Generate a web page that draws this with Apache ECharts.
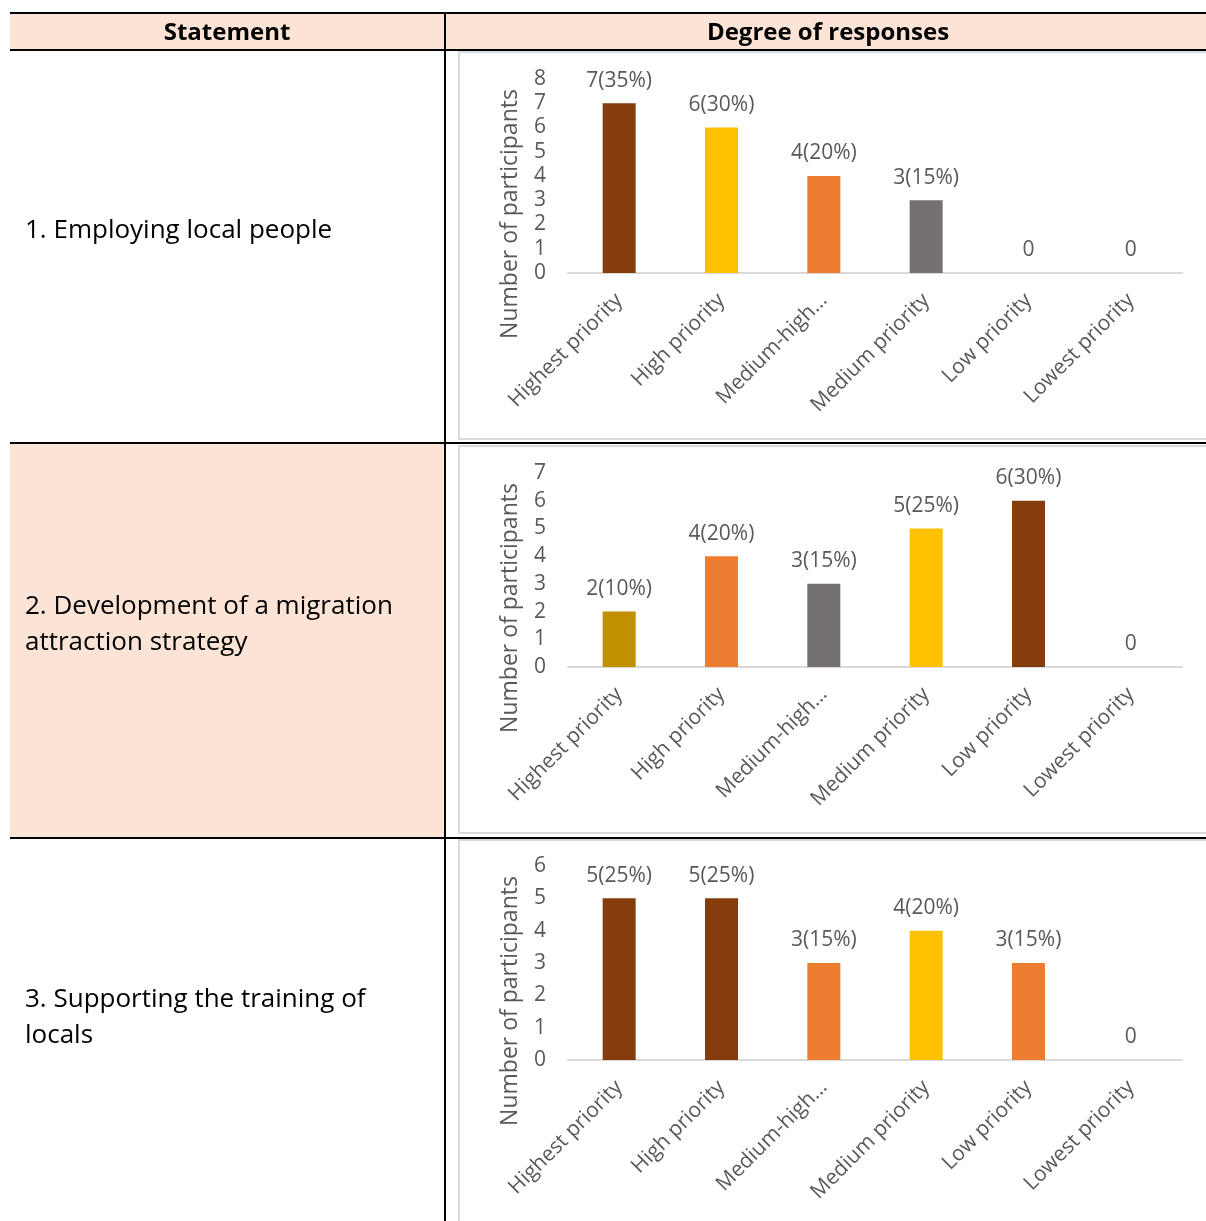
<!DOCTYPE html>
<html>
<head>
<meta charset="utf-8">
<style>
html,body{margin:0;padding:0;background:#fff;}
#c{width:1206px;height:1221px;}
</style>
<script src="https://cdn.jsdelivr.net/npm/echarts@6/dist/echarts.min.js"></script>
</head>
<body>
<div id="c"></div>
<script>
// ---- data ----
const categories = ['Highest priority', 'High priority', 'Medium-high…', 'Medium priority', 'Low priority', 'Lowest priority'];
const statements = ['1. Employing local people', '2. Development of a migration\nattraction strategy', '3. Supporting the training of\nlocals'];
const values1 = [7, 6, 4, 3, 0, 0];
const pcts1 = [35, 30, 20, 15, 0, 0];
const values2 = [2, 4, 3, 5, 6, 0];
const pcts2 = [10, 20, 15, 25, 30, 0];
const values3 = [5, 5, 3, 4, 3, 0];
const pcts3 = [25, 25, 15, 20, 15, 0];
const yMax = [8, 7, 6];

const BROWN = '#843C0C', GOLD = '#FFC000', ORANGE = '#ED7D31', GRAY = '#767171', DGOLD = '#BF9000';
const colors1 = [BROWN, GOLD, ORANGE, GRAY, GRAY, GRAY];
const colors2 = [DGOLD, ORANGE, GRAY, GOLD, BROWN, GRAY];
const colors3 = [BROWN, BROWN, ORANGE, GOLD, ORANGE, GRAY];

const FONT = 'Open Sans';
const TXT = '#595959';
const chart = echarts.init(document.getElementById('c'), null, {renderer: 'canvas'});

const gridTops = [79, 473, 866];
const plotH = 194;
const allValues = [values1, values2, values3];
const allPcts = [pcts1, pcts2, pcts3];
const allColors = [colors1, colors2, colors3];

const grids = [], xAxes = [], yAxes = [], series = [];
for (let i = 0; i < 3; i++) {
  grids.push({left: 568, right: 24, top: gridTops[i], height: plotH, containLabel: false});
  xAxes.push({
    type: 'category', gridIndex: i, data: categories,
    axisLine: {lineStyle: {color: '#D9D9D9', width: 2}},
    axisTick: {show: false},
    axisLabel: {rotate: 45, margin: 24, color: TXT, fontFamily: FONT, fontSize: 21, interval: 0}
  });
  yAxes.push({
    type: 'value', gridIndex: i, min: 0, max: yMax[i], interval: 1,
    axisLine: {show: false}, axisTick: {show: false}, splitLine: {show: false},
    axisLabel: {margin: 22, color: TXT, fontFamily: FONT, fontSize: 21}
  });
  const pc = allPcts[i];
  series.push({
    type: 'bar', xAxisIndex: i, yAxisIndex: i, barWidth: 33,
    data: allValues[i].map((v, j) => ({value: v, itemStyle: {color: allColors[i][j]}})),
    label: {
      show: true, position: 'top', distance: 12, color: TXT, fontFamily: FONT, fontSize: 21,
      formatter: p => p.value === 0 ? '0' : p.value + '(' + pc[p.dataIndex] + '%)'
    }
  });
}

const graphics = [];
// header fill
graphics.push({type: 'rect', shape: {x: 10, y: 13, width: 1196, height: 37}, style: {fill: '#FBE4D5'}, z: -10});
// row 2 left cell fill
graphics.push({type: 'rect', shape: {x: 10, y: 444, width: 434, height: 394}, style: {fill: '#FBE4D5'}, z: -10});
// chart frames
const frames = [[52, 439], [446, 833], [840, 1226]];
frames.forEach(f => graphics.push({type: 'rect', shape: {x: 459, y: f[0], width: 760, height: f[1] - f[0]}, style: {fill: 'none', stroke: '#D9D9D9', lineWidth: 2}, z: -5}));
// table lines
[13, 50, 443, 838].forEach(y => graphics.push({type: 'line', shape: {x1: 10, y1: y, x2: 1206, y2: y}, style: {stroke: '#000', lineWidth: 2}, z: 10}));
graphics.push({type: 'line', shape: {x1: 445, y1: 13, x2: 445, y2: 1221}, style: {stroke: '#000', lineWidth: 2}, z: 10});
// header texts
graphics.push({type: 'text', style: {text: 'Statement', x: 227, y: 33, textAlign: 'center', textVerticalAlign: 'middle', font: 'bold 24px "Open Sans"', fill: '#000'}});
graphics.push({type: 'text', style: {text: 'Degree of responses', x: 828, y: 33, textAlign: 'center', textVerticalAlign: 'middle', font: 'bold 24px "Open Sans"', fill: '#000'}});
// statement texts
const stmtY = [231, 625, 1018];
statements.forEach((s, i) => graphics.push({type: 'text', style: {text: s, x: 25, y: stmtY[i], textAlign: 'left', textVerticalAlign: 'middle', font: '26px "Open Sans"', lineHeight: 36, fill: '#000'}}));
// y axis titles
gridTops.forEach(t => graphics.push({type: 'text', x: 510, y: t + plotH - 59, rotation: Math.PI / 2, style: {text: 'Number of participants', x: 0, y: 0, textAlign: 'center', textVerticalAlign: 'middle', font: '23px "Open Sans"', fill: TXT}}));

chart.setOption({
  animation: false,
  textStyle: {fontFamily: FONT},
  grid: grids, xAxis: xAxes, yAxis: yAxes, series: series,
  graphic: graphics
});
</script>
</body>
</html>
